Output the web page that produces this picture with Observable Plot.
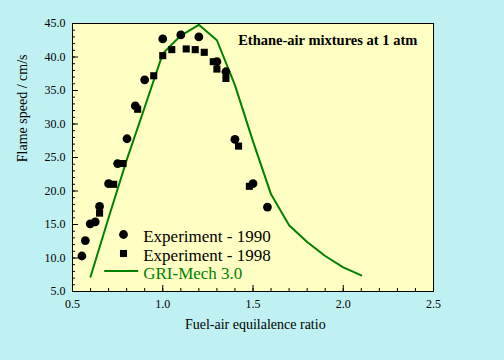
<!DOCTYPE html>
<html><head><meta charset="utf-8">
<script src="https://cdn.jsdelivr.net/npm/d3@7"></script>
<script src="https://cdn.jsdelivr.net/npm/@observablehq/plot@0.6"></script>
<style>html,body{margin:0;padding:0;background:#bff1f3;}</style>
</head><body><div id="chart"></div>
<script>
// Experiment - 1990 (circles)
const exp1990Phi   = [0.552, 0.571, 0.598, 0.626, 0.65, 0.70, 0.75, 0.802, 0.848, 0.90, 1.00, 1.10, 1.20, 1.30, 1.35, 1.40, 1.50, 1.58];
const exp1990Speed = [10.3, 12.6, 15.1, 15.4, 17.7, 21.1, 24.1, 27.8, 32.7, 36.6, 42.7, 43.3, 43.0, 39.3, 37.8, 27.7, 21.1, 17.6];
// Experiment - 1998 (squares)
const exp1998Phi   = [0.65, 0.728, 0.78, 0.861, 0.95, 1.00, 1.05, 1.13, 1.18, 1.23, 1.28, 1.30, 1.35, 1.42, 1.48];
const exp1998Speed = [16.7, 21.0, 24.1, 32.2, 37.2, 40.2, 41.1, 41.2, 41.1, 40.7, 39.3, 38.2, 36.8, 26.7, 20.7];
// GRI-Mech 3.0 (line)
const griPhi   = [0.6, 0.7, 0.8, 0.9, 1.0, 1.1, 1.2, 1.3, 1.4, 1.5, 1.6, 1.7, 1.8, 1.9, 2.0, 2.1];
const griSpeed = [7.2, 16.0, 24.6, 32.5, 40.5, 43.2, 44.8, 42.5, 35.8, 27.4, 19.5, 14.9, 12.4, 10.3, 8.6, 7.4];

const xMajor = [0.5, 1, 1.5, 2, 2.5];
const xMinor = d3.range(5, 26).map(i => i / 10);
const yMajor = [5, 10, 15, 20, 25, 30, 35, 40, 45];
const yMinor = d3.range(5, 46);

const legendLabels = ["Experiment - 1990", "Experiment - 1998", "GRI-Mech 3.0"];
const titleText = "Ethane-air mixtures at 1 atm";
const xTitle = "Fuel-air equilalence ratio";
const yTitle = "Flame speed / cm/s";

const green = "#008000";
const c90 = exp1990Phi.map((x, i) => ({x, y: exp1990Speed[i]}));
const c98 = exp1998Phi.map((x, i) => ({x, y: exp1998Speed[i]}));
const gri = griPhi.map((x, i) => ({x, y: griSpeed[i]}));

const hLine = {draw(ctx) { ctx.moveTo(-17, 0); ctx.lineTo(17, 0); }};

const chart = Plot.plot({
  width: 504, height: 360,
  marginLeft: 72, marginRight: 71, marginTop: 23, marginBottom: 69,
  style: {background: "#bff1f3", fontFamily: "Liberation Serif", fontSize: "12px", color: "black"},
  x: {domain: [0.5, 2.5]},
  y: {domain: [5, 45]},
  marks: [
    Plot.frame({fill: "#ffffc4", stroke: "none"}),
    Plot.axisX(xMinor, {tickSize: -3, fill: "none", label: null}),
    Plot.axisX(xMajor, {tickSize: -6, fill: "none", label: null}),
    Plot.axisX(xMajor, {tickSize: 0, tickPadding: 8, label: null}),
    Plot.axisY(yMinor, {tickSize: -3, fill: "none", label: null}),
    Plot.axisY(yMajor, {tickSize: -6, fill: "none", label: null}),
    Plot.axisY(yMajor, {tickSize: 0, tickPadding: 7, label: null, tickFormat: d3.format(".1f")}),
    Plot.line(gri, {x: "x", y: "y", stroke: green, strokeWidth: 2}),
    Plot.dot(c90, {x: "x", y: "y", r: 4.4, fill: "black", symbol: "circle"}),
    Plot.dot(c98, {x: "x", y: "y", r: 4.0, fill: "black", symbol: "square"}),
    // title
    Plot.text([titleText], {frameAnchor: "top-left", dx: 165.7, dy: 17.2, textAnchor: "start", lineAnchor: "middle", fontSize: 14.5, fontWeight: "bold"}),
    // legend
    Plot.dot([legendLabels[0]], {frameAnchor: "top-left", dx: 51, dy: 211, r: 4.4, fill: "black", symbol: "circle"}),
    Plot.dot([legendLabels[1]], {frameAnchor: "top-left", dx: 51, dy: 230, r: 4.0, fill: "black", symbol: "square"}),
    Plot.dot([legendLabels[2]], {frameAnchor: "top-left", dx: 48.7, dy: 247.4, symbol: hLine, fill: "none", stroke: green, strokeWidth: 2}),
    Plot.text([legendLabels[0]], {frameAnchor: "top-left", dx: 70.7, dy: 213.3, textAnchor: "start", lineAnchor: "middle", fontSize: 17}),
    Plot.text([legendLabels[1]], {frameAnchor: "top-left", dx: 70.7, dy: 231.8, textAnchor: "start", lineAnchor: "middle", fontSize: 17}),
    Plot.text([legendLabels[2]], {frameAnchor: "top-left", dx: 70.7, dy: 250.2, textAnchor: "start", lineAnchor: "middle", fontSize: 17, fill: green}),
    // axis titles
    Plot.text([xTitle], {frameAnchor: "bottom", dx: 2.3, dy: 32.8, lineAnchor: "middle", fontSize: 14}),
    Plot.text([yTitle], {frameAnchor: "left", dx: -50.3, dy: 4.7, rotate: -90, lineAnchor: "middle", fontSize: 14}),
    Plot.frame({stroke: "black"})
  ]
});
document.getElementById("chart").appendChild(chart);
</script>
</body></html>
